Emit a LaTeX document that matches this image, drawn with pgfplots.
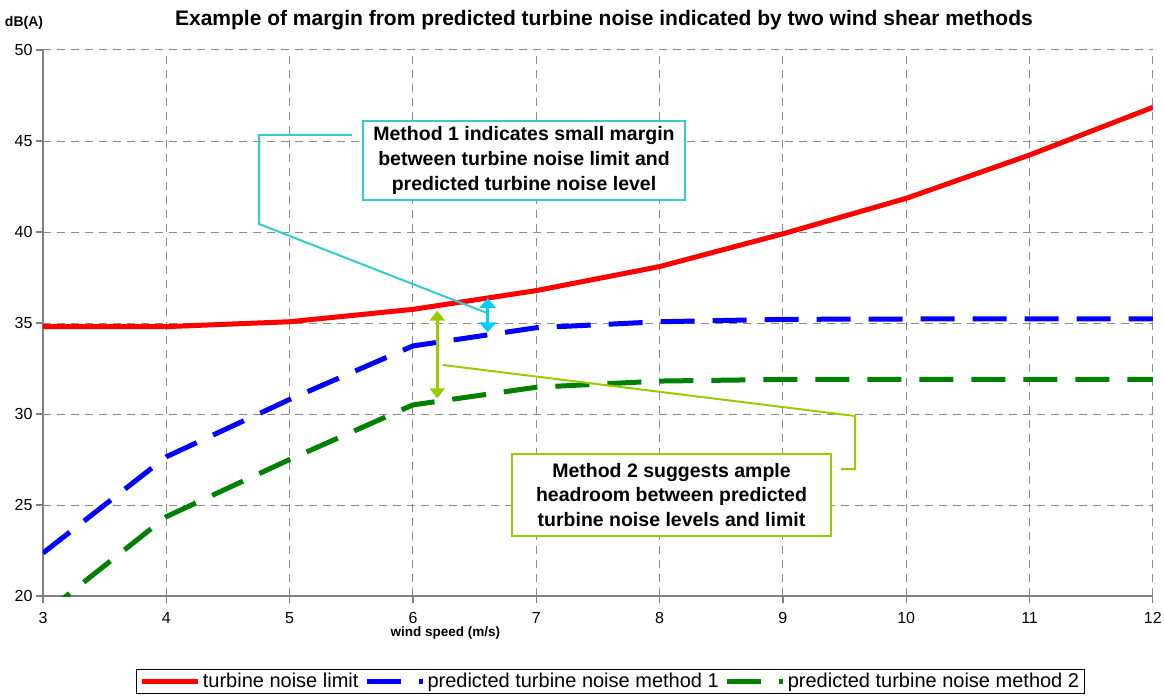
\documentclass[border=0pt]{standalone}
\usepackage{fontspec}
\setmainfont{Liberation Sans}
\usepackage{pgfplots}
\pgfplotsset{compat=1.18}
\usetikzlibrary{arrows.meta}

\definecolor{limitred}{RGB}{255,0,0}
\definecolor{mblue}{RGB}{0,0,255}
\definecolor{mgreen}{RGB}{0,128,0}
\definecolor{calloutcyan}{RGB}{51,204,204}
\definecolor{arrowcyan}{RGB}{0,204,255}
\definecolor{calloutlime}{RGB}{153,204,0}
\definecolor{gridgray}{RGB}{140,140,140}
\definecolor{axisgray}{RGB}{128,128,128}

\begin{document}
\begin{tikzpicture}
\path[use as bounding box] (0,0) rectangle (1164pt,697pt);
\begin{axis}[
  at={(43pt,101pt)}, anchor=south west,
  scale only axis, width=1110pt, height=546pt,
  xmin=3, xmax=12, ymin=20, ymax=50,
  xtick={3,4,...,12}, ytick={20,25,...,50},
  axis x line*=bottom, axis y line*=left,
  axis line style={axisgray, line width=1.5pt, -},
  tick style={axisgray, line width=1.2pt},
  tick align=outside, major tick length=7pt,
  grid=major,
  major grid style={gridgray, line width=1pt, dash pattern=on 8pt off 6pt},
  tick label style={font=\fontsize{16}{19}\selectfont},
  xticklabel style={yshift=-6pt},
  /pgf/number format/assume math mode=true,
  every axis title shift=0pt,
  title={Example of margin from predicted turbine noise indicated by two wind shear methods},
  title style={at={(axis description cs:0.5054,1.055)}, anchor=center,
    font=\bfseries\fontsize{21}{24}\selectfont},
  xlabel={wind speed (m/s)},
  xlabel style={at={(axis description cs:0.3626,-0.0678)}, anchor=center,
    font=\bfseries\fontsize{13.5}{16}\selectfont},
  ylabel={dB(A)},
  ylabel style={rotate=-90, at={(axis description cs:-0.0171,1.05)}, anchor=center,
    font=\bfseries\fontsize{14}{16}\selectfont},
  legend columns=3,
  legend style={at={(axis description cs:0.5113,-0.1337)}, anchor=north,
    draw=black, line width=1pt, font=\fontsize{20}{22}\selectfont,
    inner xsep=3pt, inner ysep=2pt,
    /tikz/every even column/.append style={column sep=4pt}},
  legend image code/.code={\draw[#1] (0pt,0pt) -- (56pt,0pt);},
]
\addplot[limitred, line width=5pt] coordinates {
  (3,34.8) (4,34.8) (5,35.07) (6,35.75) (7,36.78) (8,38.1)
  (9,39.9) (10,41.85) (11,44.23) (12,46.85)};
\addlegendentry{turbine noise limit}
\addplot[mblue, line width=5pt, dash pattern=on 34pt off 18pt] coordinates {
  (3,22.36) (4,27.65) (5,30.8) (6,33.74) (7,34.74) (8,35.07)
  (9,35.2) (10,35.22) (11,35.22) (12,35.22)};
\addlegendentry{predicted turbine noise method 1}
\addplot[mgreen, line width=5pt, dash pattern=on 34pt off 18pt] coordinates {
  (3,18.98) (4,24.36) (5,27.5) (6,30.5) (7,31.47) (8,31.81)
  (9,31.9) (10,31.9) (11,31.9) (12,31.9)};
\addlegendentry{predicted turbine noise method 2}
% margin arrows between the limit and each prediction
\draw[arrowcyan, line width=3pt,
  {Triangle[width=17pt,length=10pt]}-{Triangle[width=17pt,length=10pt]}]
  (axis cs:6.606,36.36) -- (axis cs:6.606,34.49);
\draw[calloutlime, line width=3pt,
  {Triangle[width=15pt,length=10pt]}-{Triangle[width=15pt,length=10pt]}]
  (axis cs:6.197,35.68) -- (axis cs:6.197,30.86);
\end{axis}
% callout boxes, in page units measured from the top-left corner
\begin{scope}[x=1pt,y=-1pt,yshift=697pt]
  \draw[calloutcyan, line width=2pt] (352,135) -- (259,135) -- (259,224) -- (487,313);
  \draw[calloutcyan, line width=2pt, fill=white] (363,121) rectangle (685,200);
  \node[align=center, font=\bfseries\fontsize{19.5}{25}\selectfont] at (524,160.5)
    {Method 1 indicates small margin\\between turbine noise limit and\\predicted turbine noise level};
  \draw[calloutlime, line width=2pt] (443,365) -- (855,416) -- (855,469) -- (841,469);
  \draw[calloutlime, line width=2pt, fill=white] (512,454) rectangle (831,536);
  \node[align=center, font=\bfseries\fontsize{19.5}{24.5}\selectfont] at (671.5,495)
    {Method 2 suggests ample\\headroom between predicted\\turbine noise levels and limit};
\end{scope}
\end{tikzpicture}
\end{document}
